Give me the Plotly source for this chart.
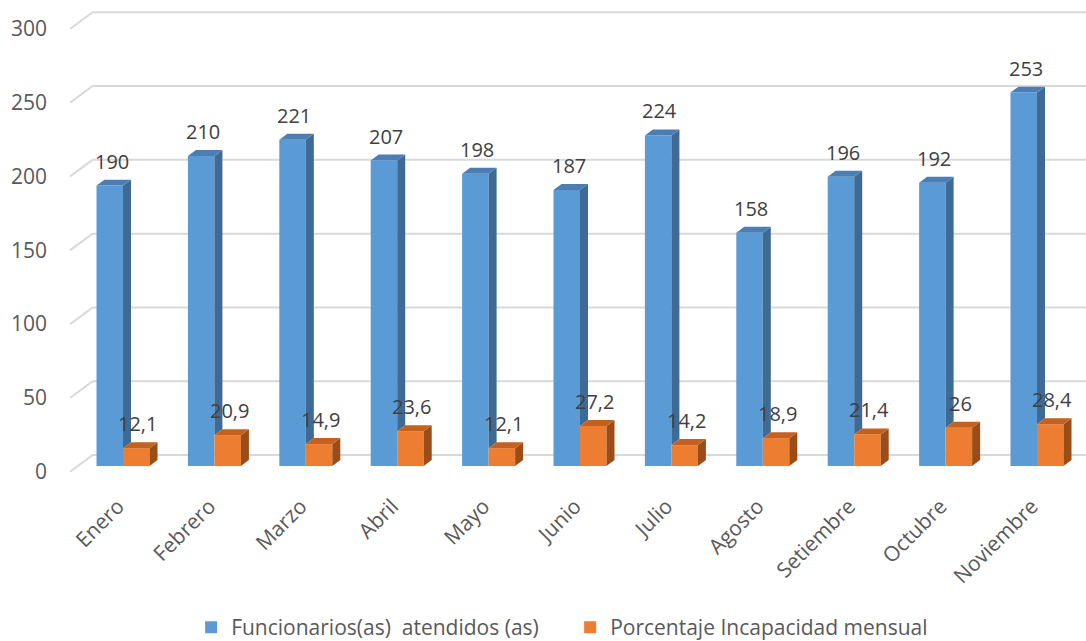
import plotly.graph_objects as go

months = ["Enero", "Febrero", "Marzo", "Abril", "Mayo", "Junio", "Julio",
          "Agosto", "Setiembre", "Octubre", "Noviembre"]
funcionarios = [190, 210, 221, 207, 198, 187, 224, 158, 196, 192, 253]
porcentaje = [12.1, 20.9, 14.9, 23.6, 12.1, 27.2, 14.2, 18.9, 21.4, 26, 28.4]
y_ticks = [0, 50, 100, 150, 200, 250, 300]

name_a = "Funcionarios(as)  atendidos (as)"
name_b = "Porcentaje Incapacidad mensual"

# 3D projection constants (data units)
W = 0.29        # bar width (category units)
BX = 0.0875     # bar depth, x shift
BY = 4.05       # bar depth, y shift
B0 = 3.85       # bar front plane y shift
WX = 0.248      # wall depth x shift
WY = 11.3       # wall depth y shift
XMIN, XMAX = -0.58, 10.536
YMIN, YMAX = -5.6, 319.6

BLUE, BLUE_SIDE, BLUE_TOP = "#5B9BD5", "#3E6A94", "#4A7EB5"
ORNG, ORNG_SIDE, ORNG_TOP = "#ED7D31", "#9B4D19", "#C4611E"
TXT = "#404040"
FONT = "Open Sans"


def fmt(v):
    s = ("%g" % v)
    return s.replace(".", ",")


xs = list(range(len(months)))
fig = go.Figure()

# front faces
fig.add_trace(go.Bar(x=[i - W / 2 for i in xs], y=funcionarios, base=B0, width=W,
                     marker=dict(color=BLUE, line=dict(width=0)), name=name_a))
fig.add_trace(go.Bar(x=[i + W / 2 for i in xs], y=porcentaje, base=B0, width=W,
                     marker=dict(color=ORNG, line=dict(width=0)), name=name_b))


def poly(px, py, color):
    fig.add_trace(go.Scatter(x=px + [px[0]], y=py + [py[0]], mode="lines", fill="toself",
                             fillcolor=color, line=dict(width=0, color=color),
                             hoverinfo="skip", showlegend=False))


for i, b, o in zip(xs, funcionarios, porcentaje):
    # blue side (visible part above orange bar)
    x1 = i
    poly([x1, x1 + BX, x1 + BX, x1], [B0 + o, B0 + o + BY, B0 + b + BY, B0 + b], BLUE_SIDE)
    # blue top
    x0 = i - W
    poly([x0, x0 + BX, x1 + BX, x1], [B0 + b, B0 + b + BY, B0 + b + BY, B0 + b], BLUE_TOP)
    # orange side
    x0, x1 = i, i + W
    poly([x1, x1 + BX, x1 + BX, x1], [B0, B0 + BY, B0 + o + BY, B0 + o], ORNG_SIDE)
    # orange top
    poly([x0, x0 + BX, x1 + BX, x1], [B0 + o, B0 + o + BY, B0 + o + BY, B0 + o], ORNG_TOP)

# gridlines on back wall with slanted floor/side edge
shapes = []
for v in y_ticks:
    shapes.append(dict(type="path", xref="x", yref="y", layer="below",
                       path=f"M {XMIN},{v} L {XMIN + WX},{v + WY} L {XMAX},{v + WY}",
                       line=dict(color="#D9D9D9", width=2)))

annotations = []
for i, b, o in zip(xs, funcionarios, porcentaje):
    annotations.append(dict(x=i - W / 2 + 0.02, y=B0 + b + BY, text=fmt(b), showarrow=False,
                            xref="x", yref="y", yanchor="bottom", yshift=3,
                            font=dict(family=FONT, size=20, color=TXT)))
    annotations.append(dict(x=i + W / 2 + 0.015, y=B0 + o + BY, text=fmt(o), showarrow=False,
                            xref="x", yref="y", yanchor="bottom", yshift=3,
                            font=dict(family=FONT, size=20, color=TXT)))

fig.update_layout(
    width=1086, height=641,
    margin=dict(l=70, r=0, t=0, b=161, autoexpand=False),
    paper_bgcolor="white", plot_bgcolor="white",
    barmode="overlay",
    shapes=shapes, annotations=annotations,
    font=dict(family=FONT, color="#595959"),
    legend=dict(orientation="h", xref="container", yref="container",
                x=0.176, xanchor="left", y=0.021, yanchor="middle",
                itemwidth=30, entrywidth=334, entrywidthmode="pixels",
                font=dict(family=FONT, size=21, color="#595959"), itemclick=False),
    xaxis=dict(range=[XMIN, XMAX], tickvals=xs, ticktext=months, tickangle=-45,
               showgrid=False, zeroline=False, showline=False, ticks="", automargin=False,
               ticklabelstandoff=9, ticklabelshift=-5,
               tickfont=dict(family=FONT, size=21, color="#595959")),
    yaxis=dict(range=[YMIN, YMAX], tickvals=y_ticks, showgrid=False, zeroline=False,
               showline=False, ticks="", ticklabelstandoff=22, automargin=False,
               tickfont=dict(family=FONT, size=21, color="#595959")),
)

fig.write_html("out.html", config={"displayModeBar": False},
               post_script="document.body.style.margin='0';document.body.style.overflow='hidden';")
